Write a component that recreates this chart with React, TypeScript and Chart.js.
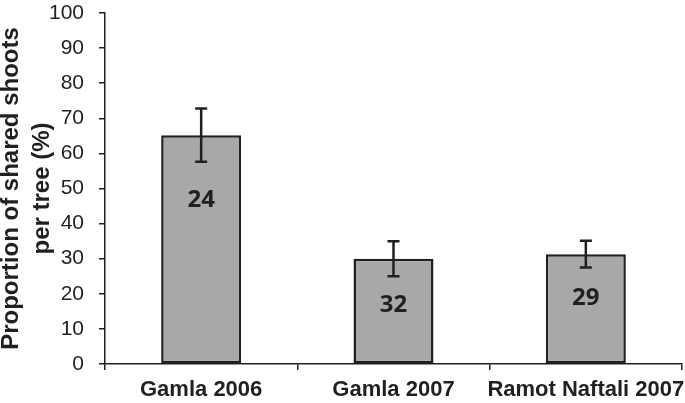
import React, { useEffect, useRef } from "react";
import { Chart, registerables } from "chart.js";

Chart.register(...registerables);

const categories = ["Gamla 2006", "Gamla 2007", "Ramot Naftali 2007"];
const meanValues = [65.2, 30, 31.3];
const errorValues = [7.6, 5, 3.8];
const sampleSizes = ["24", "32", "29"];
const sampleLabelLevels = [46.7, 16.8, 18.8];
const yTitleLines = ["Proportion of shared shoots", "per tree (%)"];

const INK = "#231f20";

const overlayPlugin = {
  id: "errorAndCounts",
  afterDatasetsDraw(chart: any) {
    const { ctx, scales } = chart;
    const meta = chart.getDatasetMeta(0);
    const y = scales.y;
    ctx.save();
    meta.data.forEach((bar: any, i: number) => {
      const x = bar.x;
      const top = y.getPixelForValue(meanValues[i] + errorValues[i]);
      const bot = y.getPixelForValue(meanValues[i] - errorValues[i]);
      ctx.strokeStyle = INK;
      ctx.lineWidth = 2.5;
      ctx.beginPath();
      ctx.moveTo(x, top);
      ctx.lineTo(x, bot);
      ctx.moveTo(x - 6, top);
      ctx.lineTo(x + 6, top);
      ctx.moveTo(x - 6, bot);
      ctx.lineTo(x + 6, bot);
      ctx.stroke();
      ctx.fillStyle = INK;
      ctx.font = "bold 24px 'Open Sans'";
      ctx.textAlign = "center";
      ctx.textBaseline = "middle";
      ctx.fillText(sampleSizes[i], x, y.getPixelForValue(sampleLabelLevels[i]));
    });
    ctx.restore();
  },
};

export default function App() {
  const ref = useRef<HTMLCanvasElement>(null);
  useEffect(() => {
    document.body.style.margin = "0";
    const chart = new Chart(ref.current as HTMLCanvasElement, {
      type: "bar",
      data: {
        labels: categories,
        datasets: [
          {
            data: meanValues,
            backgroundColor: "#a7a8aa",
            borderColor: INK,
            borderWidth: 2.5,
            borderSkipped: false,
            categoryPercentage: 1,
            barPercentage: 0.416,
          },
        ],
      },
      options: {
        animation: false,
        responsive: false,
        maintainAspectRatio: false,
        layout: { padding: { left: 0, top: 13, right: 3, bottom: 0 } },
        plugins: {
          legend: { display: false },
          tooltip: { enabled: false },
        },
        scales: {
          x: {
            grid: {
              display: true,
              drawOnChartArea: false,
              drawTicks: true,
              tickLength: 6,
              color: INK,
              lineWidth: 1.5,
              offset: true,
            },
            border: { display: true, color: INK, width: 1.5 },
            ticks: {
              color: INK,
              font: { family: "'Liberation Sans', Arial", size: 22, weight: "bold" },
              padding: 7,
              maxRotation: 0,
              autoSkip: false,
            },
            afterFit(scale: any) {
              scale.height = 39;
              scale.paddingLeft = 0;
              scale.paddingRight = 0;
            },
          },
          y: {
            min: 0,
            max: 100,
            grid: {
              display: true,
              drawOnChartArea: false,
              drawTicks: true,
              tickLength: 6,
              color: INK,
              lineWidth: 1.5,
            },
            border: { display: true, color: INK, width: 1.5 },
            ticks: {
              stepSize: 10,
              color: INK,
              font: { family: "'Liberation Sans', Arial", size: 21 },
              padding: 15,
            },
            title: {
              display: true,
              text: yTitleLines,
              color: INK,
              font: { family: "'Liberation Sans', Arial", size: 24, weight: "bold", lineHeight: 1.3 },
              padding: { top: -4, bottom: 0 },
            },
            afterFit(scale: any) {
              scale.width = 105;
              scale.paddingTop = 0;
              scale.paddingBottom = 0;
            },
          },
        },
      },
      plugins: [overlayPlugin],
    } as any);
    return () => chart.destroy();
  }, []);
  return (
    <div style={{ position: "absolute", left: 0, top: 0, width: 685, height: 403, background: "#fff" }}>
      <canvas ref={ref} width={685} height={403} style={{ width: 685, height: 403 }} />
    </div>
  );
}
